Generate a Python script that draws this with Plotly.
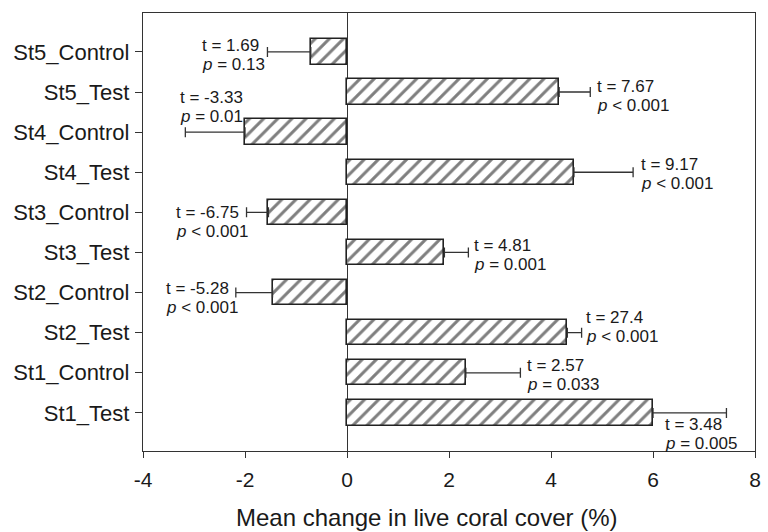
import plotly.graph_objects as go

# ---- data ----
categories = ["St5_Control", "St5_Test", "St4_Control", "St4_Test", "St3_Control",
              "St3_Test", "St2_Control", "St2_Test", "St1_Control", "St1_Test"]
means = [-0.71, 4.16, -2.00, 4.45, -1.54, 1.91, -1.46, 4.32, 2.33, 6.00]
errors = [0.85, 0.61, 1.17, 1.16, 0.43, 0.47, 0.72, 0.28, 1.07, 1.44]
t_labels = ["t = 1.69", "t = 7.67", "t = -3.33", "t = 9.17", "t = -6.75",
            "t = 4.81", "t = -5.28", "t = 27.4", "t = 2.57", "t = 3.48"]
p_labels = ["= 0.13", "< 0.001", "= 0.01", "< 0.001", "< 0.001",
            "= 0.001", "< 0.001", "< 0.001", "= 0.033", "= 0.005"]
x_ticks = [-4, -2, 0, 2, 4, 6, 8]
x_tick_text = ["-4", "-2", "0", "2", "4", "6", "8"]

# ---- label placement styles (pixel offsets from error-bar end / bar centre) ----
label_dx = [-66, 6, -6, 7, -72, 5, -71, 3, 6, -62]
label_dy = [-6, -6, -35, -8, 0, -7, -4, -15, -7, 12]
line_gap = 19

FONT = "Liberation Sans, Arial, sans-serif"
INK = "#1a1a1a"
LINE = "#333333"

err_plus = [e if m > 0 else 0 for m, e in zip(means, errors)]
err_minus = [e if m < 0 else 0 for m, e in zip(means, errors)]

fig = go.Figure()
fig.add_trace(go.Bar(
    x=means, y=categories, orientation="h", width=0.63,
    marker=dict(color="white", line=dict(color="#222222", width=1.6),
                pattern=dict(shape="/", fgcolor="#000000", bgcolor="white",
                             size=10, solidity=0.3)),
    error_x=dict(type="data", symmetric=False, array=err_plus,
                 arrayminus=err_minus, color=LINE, thickness=1.3, width=5),
    hoverinfo="skip",
))

annotations = []
for i, cat in enumerate(categories):
    end = means[i] + (errors[i] if means[i] > 0 else -errors[i])
    for k, txt in enumerate([t_labels[i], "<i>p</i> " + p_labels[i]]):
        annotations.append(dict(
            x=end, y=cat, xref="x", yref="y", text=txt, showarrow=False,
            xanchor="left", yanchor="middle", align="left",
            xshift=label_dx[i], yshift=-(label_dy[i] + k * line_gap),
            font=dict(family=FONT, size=17, color=INK), borderpad=0,
        ))

annotations.append(dict(
    x=0.464, y=-0.152, xref="paper", yref="paper", xanchor="center",
    yanchor="middle", showarrow=False,
    text="Mean change in live coral cover (%)",
    font=dict(family=FONT, size=24, color=INK),
))

fig.update_layout(
    width=768, height=532,
    margin=dict(l=143, r=7, t=13, b=81),
    plot_bgcolor="white", paper_bgcolor="white",
    showlegend=False, bargap=0,
    font=dict(family=FONT, color=INK),
    annotations=annotations,
    xaxis=dict(
        range=[-4, 8], tickvals=x_ticks, ticktext=x_tick_text,
        ticks="outside", ticklen=6,
        tickwidth=1.3, tickcolor=LINE, showline=True, mirror=True,
        linecolor=LINE, linewidth=1.3, showgrid=False,
        zeroline=True, zerolinecolor=LINE, zerolinewidth=1.2,
        tickfont=dict(family=FONT, size=21, color=INK),
        ticklabelstandoff=4,
    ),
    yaxis=dict(
        type="category", categoryorder="array", categoryarray=categories,
        range=[9.95, -0.97], ticks="outside", ticklen=7, tickwidth=1.3,
        tickcolor=LINE, showline=True, mirror=True, linecolor=LINE,
        linewidth=1.3, showgrid=False, zeroline=False,
        tickfont=dict(family=FONT, size=22, color=INK),
        ticklabelstandoff=1,
    ),
)

fig.write_html("out.html")
